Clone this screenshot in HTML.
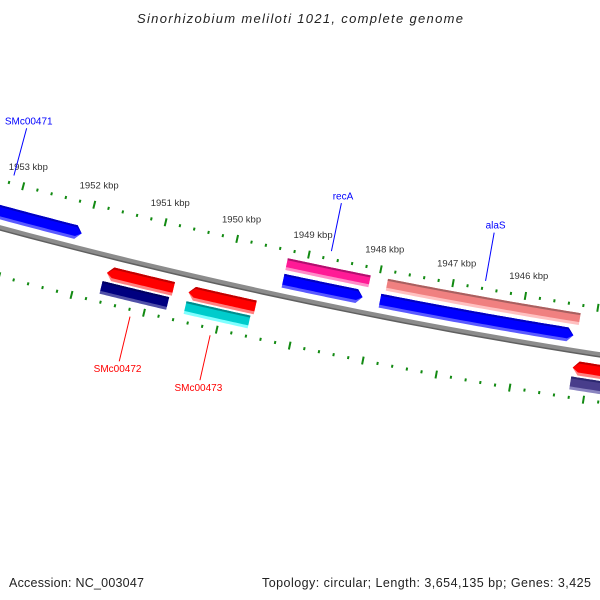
<!DOCTYPE html>
<html><head><meta charset="utf-8"><style>
html,body{margin:0;padding:0;background:#fff;}
svg{display:block;font-family:"Liberation Sans",sans-serif;}
</style></head><body>
<svg id="map" width="600" height="600" viewBox="0 0 600 600">
<rect width="600" height="600" fill="#fff"/>
<g id="ruler"></g>
<g id="backbone"></g>
<g id="features"></g>
<g id="labels"></g>
<text x="300" y="23" text-anchor="middle" font-size="13" font-style="italic" fill="#222" textLength="326">Sinorhizobium meliloti 1021, complete genome</text>
<text x="9" y="587" font-size="12.5" fill="#222" textLength="135">Accession: NC_003047</text>
<text x="591" y="587" text-anchor="end" font-size="12.5" fill="#222" textLength="329">Topology: circular; Length: 3,654,135 bp; Genes: 3,425</text>
</svg>
<script>
// ---- data ----
const majorTicks = [1953, 1952, 1951, 1950, 1949, 1948, 1947, 1946, 1945];
const labelTicks = [1953, 1952, 1951, 1950, 1949, 1948, 1947, 1946];
const geneNames = ["SMc00471", "", "recA", "recA-b", "alaS", "alaS-b", "SMc00472", "SMc00472-b", "SMc00473", "SMc00473-b", "right-a", "right-b"];
const geneStart = [1954.6, 1952.07, 1949.27, 1949.27, 1947.93, 1947.88, 1951.61, 1951.64, 1950.48, 1950.48, 1945.21, 1945.21];
const geneEnd   = [1952.07, 1952.07, 1948.17, 1948.12, 1945.27, 1945.22, 1950.69, 1950.72, 1949.56, 1949.60, 1943.8, 1943.8];
const geneStrand = [1, 0, 1, 0, 1, 0, -1, 0, -1, 0, -1, 0];
const geneSlot = [1, 0, 1, 2, 1, 2, 3, 4, 3, 4, 3, 4];
const geneColor = ["blue", "none", "blue", "pink", "blue", "salmon", "red", "navy", "red", "cyan", "red", "slate"];
const labelNames = ["SMc00471", "recA", "alaS", "SMc00472", "SMc00473"];
const labelKbp = [1953.16, 1948.71, 1946.57, 1951.17, 1950.07];
const labelSide = [1, 1, 1, -1, -1];

// ---- geometry ----
const CX = 1470, CY = -5236, R0 = 5658;
const NS = "http://www.w3.org/2000/svg";
function ang(k){ return (98.94 + (k - 1945) * 0.75) * Math.PI / 180; }
function pt(k, r){ const a = ang(k); return [CX + r * Math.cos(a), CY + r * Math.sin(a)]; }
function mk(tag, attrs, parent){ const e = document.createElementNS(NS, tag); for (const k in attrs) e.setAttribute(k, attrs[k]); parent.appendChild(e); return e; }
const slotR = [null, [5636, 5650], [5620, 5632], [5668, 5682], [5684, 5697]];
const palette = {
  blue: ["#0000c0", "#0000ff", "#5a5aff"],
  pink: ["#b0106e", "#ff1a96", "#ff8cc8"],
  salmon: ["#a86060", "#f08080", "#ffc0c0"],
  red: ["#c00000", "#ff0000", "#ff8080"],
  navy: ["#000060", "#000080", "#5050a8"],
  cyan: ["#008c8c", "#00cccc", "#80ffff"],
  slate: ["#2c2870", "#483d8b", "#8a84c0"]
};

// ruler
const ruler = document.getElementById('ruler');
[5612, 5705].forEach(function(rc, ri){
  for (let i = 0; i <= 55; i++) {
    const k = 1954 - i * 0.2;
    const major = majorTicks.indexOf(Math.round(k)) >= 0 && Math.abs(k - Math.round(k)) < 0.01;
    const h = major ? 4 : 1.5;
    const p1 = pt(k, rc - h), p2 = pt(k, rc + h);
    const t = mk('line', {x1:p1[0], y1:p1[1], x2:p2[0], y2:p2[1], stroke:'#128a12', 'stroke-width':2}, ruler);
    
    
  }
});
labelTicks.forEach(function(k){
  const p = pt(k, 5592);
  const t = mk('text', {x:p[0], y:p[1] + 3, 'text-anchor':'middle', 'font-size':'9.5', fill:'#333'}, ruler);
  t.textContent = k + ' kbp';
  
  
});

// backbone
const bb = document.getElementById('backbone');
function arcPts(k1, k2, r){ const a = []; for (let i = 0; i <= 40; i++) { const p = pt(k1 + (k2 - k1) * i / 40, r); a.push(p[0].toFixed(2) + ',' + p[1].toFixed(2)); } return a; }
const bl = mk('polyline', {points: arcPts(1956, 1943, R0).join(' '), fill:'none', stroke:'#8c8c8c', 'stroke-width':5}, bb);


const bl2 = mk('polyline', {points: arcPts(1956, 1943, R0 + 2.2).join(' '), fill:'none', stroke:'#606060', 'stroke-width':1.5}, bb);



// features
const fg = document.getElementById('features');
function shape(s, e, strand, r1, r2, rm){
  const head = 0.08;
  const pts = [];
  if (strand === 1) {
    const tb = e + head;
    arcPts(s, tb, r1).forEach(function(p){ pts.push(p); });
    const tp = pt(e, rm); pts.push(tp[0] + ',' + tp[1]);
    arcPts(tb, s, r2).forEach(function(p){ pts.push(p); });
  } else if (strand === -1) {
    const tb = s - head;
    const tp = pt(s, rm); pts.push(tp[0] + ',' + tp[1]);
    arcPts(tb, e, r1).forEach(function(p){ pts.push(p); });
    arcPts(e, tb, r2).forEach(function(p){ pts.push(p); });
  } else {
    arcPts(s, e, r1).forEach(function(p){ pts.push(p); });
    arcPts(e, s, r2).forEach(function(p){ pts.push(p); });
  }
  return pts.join(' ');
}
for (let i = 0; i < geneStart.length; i++) {
  const r = slotR[geneSlot[i]];
  if (!r || geneColor[i] === 'none') continue;
  const c = palette[geneColor[i]];
  const rm = (r[0] + r[1]) / 2;
  const g = mk('g', {}, fg);
  
  
  mk('polygon', {points: shape(geneStart[i], geneEnd[i], geneStrand[i], r[0], r[1], rm), fill: c[2]}, g);
  mk('polygon', {points: shape(geneStart[i], geneEnd[i], geneStrand[i], r[0], r[1] - 3, rm), fill: c[1]}, g);
  mk('polygon', {points: shape(geneStart[i], geneEnd[i], geneStrand[i], r[0], r[0] + 2, rm), fill: c[0]}, g);
}

// labels
const lg = document.getElementById('labels');
for (let i = 0; i < labelNames.length; i++) {
  const fwd = labelSide[i] === 1;
  const col = fwd ? '#0000ff' : '#ff0000';
  const a = pt(labelKbp[i], fwd ? 5604 : 5712), b = pt(labelKbp[i], fwd ? 5555 : 5758);
  const ln = mk('line', {x1:a[0], y1:a[1], x2:b[0], y2:b[1], stroke:col, 'stroke-width':1}, lg);
  
  
  const tp = pt(labelKbp[i], fwd ? 5547 : 5765);
  const t = mk('text', {x:tp[0], y:tp[1] + 4, 'text-anchor':'middle', 'font-size':'10', fill:col}, lg);
  t.textContent = labelNames[i];
  
  
}
</script>
</body></html>
